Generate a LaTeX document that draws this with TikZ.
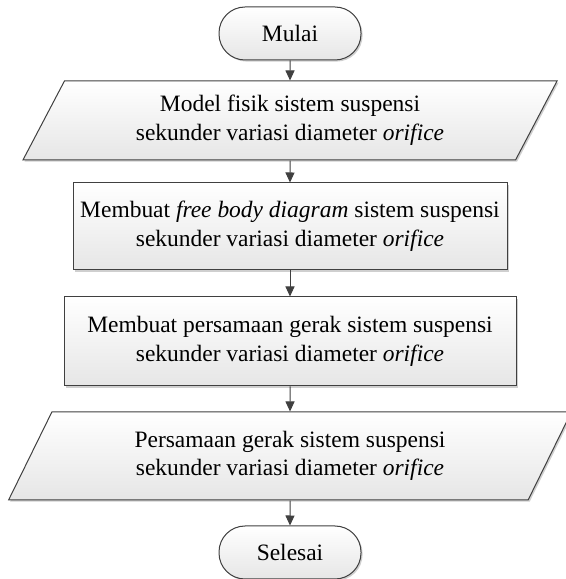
\documentclass[tikz,border=0pt]{standalone}
\usepackage{fontspec}
\setmainfont{Liberation Serif}
\usetikzlibrary{arrows.meta,positioning,shapes.geometric,shadows}
\definecolor{ink}{HTML}{404040}
\definecolor{shadebot}{HTML}{E6E6E6}
\definecolor{shadowgray}{HTML}{CFCFCF}
\tikzset{
  basecard/.style={draw=ink,line width=0.75pt,top color=white,bottom color=shadebot,
                   align=center,inner sep=3pt,
                   font=\fontsize{17.6pt}{21.5pt}\selectfont,
                   drop shadow={shadow xshift=1.2pt,shadow yshift=-1.2pt,
                                fill=shadowgray,opacity=1}},
  termcard/.style={basecard,rounded corners=19.5pt,
                   minimum width=106.5pt,minimum height=39.75pt},
  proccard/.style={basecard,rectangle},
  iocard/.style={basecard,trapezium,trapezium left angle=63.43,
                 trapezium right angle=116.57,trapezium stretches=true},
  flowarr/.style={-{Triangle[length=7.5pt,width=6.75pt]},line width=0.75pt,
                  draw=ink}
}
\begin{document}
\begin{tikzpicture}[x=0.75pt,y=0.75pt]
    \path[use as bounding box] (0,0) rectangle (565,579);
    \node[termcard] (start) at (290,545.5) {Mulai};
    \node[iocard,minimum width=401.25pt,minimum height=59.25pt] (model)
      at (290,458.5)
      {Model fisik sistem suspensi\\
       sekunder variasi diameter \textit{orifice}};
    \node[proccard,minimum width=325.5pt,minimum height=65.25pt] (fbd)
      at (290,352.5)
      {Membuat \textit{free body diagram} sistem suspensi\\
       sekunder variasi diameter \textit{orifice}};
    \node[proccard,minimum width=339pt,minimum height=66.75pt] (eqmake)
      at (290,237.5)
      {Membuat persamaan gerak sistem suspensi\\
       sekunder variasi diameter \textit{orifice}};
    \node[iocard,minimum width=423.75pt,minimum height=66pt] (eqout)
      at (290,123)
      {Persamaan gerak sistem suspensi\\
       sekunder variasi diameter \textit{orifice}};
    \node[termcard] (stop) at (290,26.5) {Selesai};
    \draw[flowarr] (start) -- (model);
    \draw[flowarr] (model) -- (fbd);
    \draw[flowarr] (fbd) -- (eqmake);
    \draw[flowarr] (eqmake) -- (eqout);
    \draw[flowarr] (eqout) -- (stop);
  \end{tikzpicture}
\end{document}
